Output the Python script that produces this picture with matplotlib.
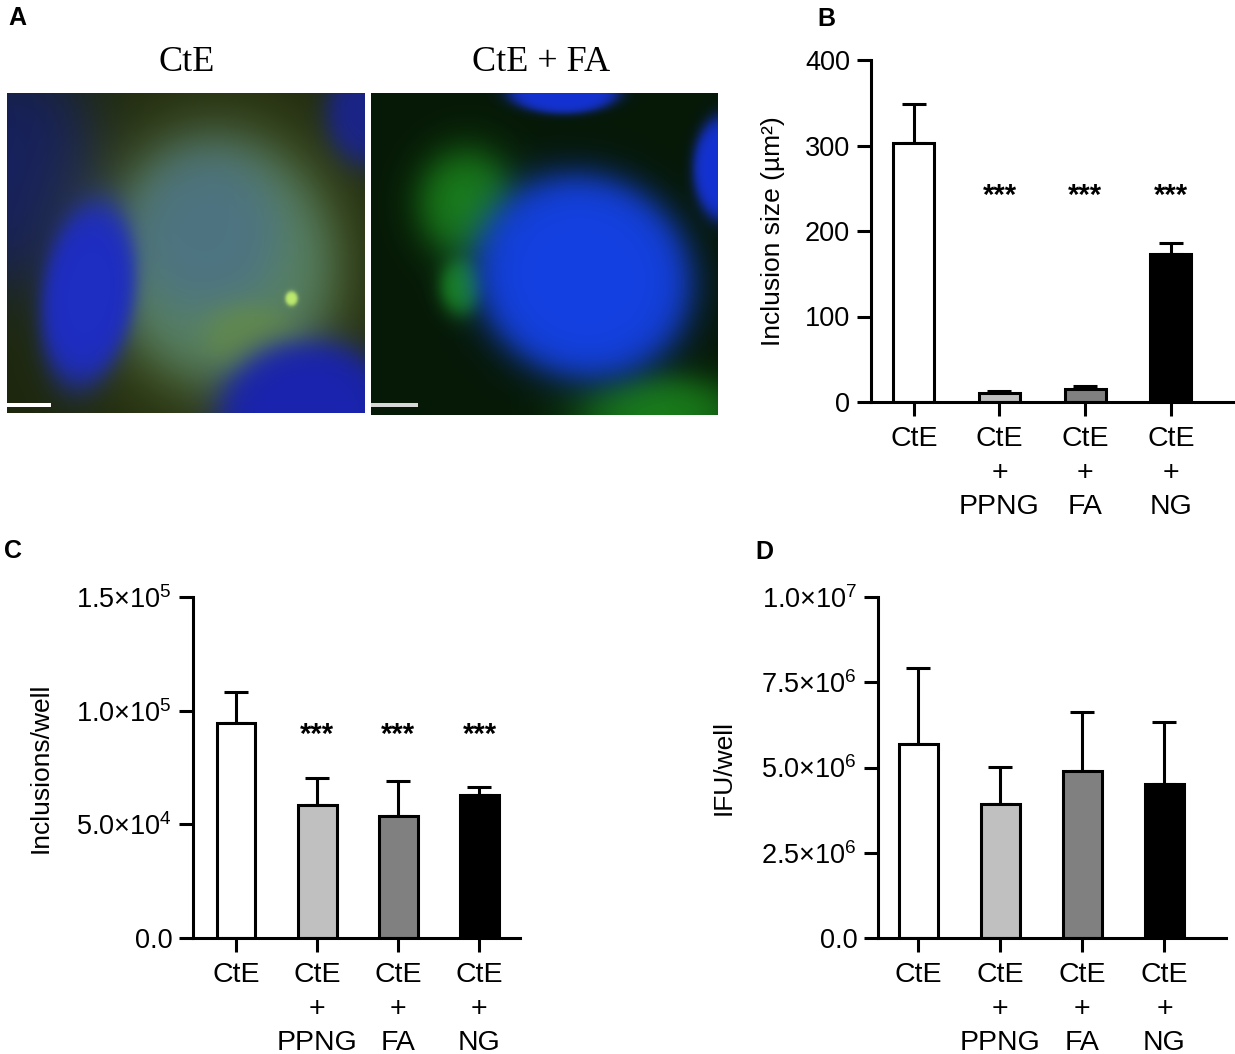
import numpy as np
import matplotlib
matplotlib.use("Agg")
import matplotlib.pyplot as plt

plt.rcParams['font.family'] = ['Liberation Sans', 'DejaVu Sans']
plt.rcParams['mathtext.fontset'] = 'custom'
plt.rcParams['mathtext.rm'] = 'Liberation Sans'
plt.rcParams['mathtext.it'] = 'Liberation Sans:italic'

# ---- data ----
groups = ['CtE', 'CtE\n+\nPPNG', 'CtE\n+\nFA', 'CtE\n+\nNG']
bar_colors = ['white', '#c0c0c0', '#808080', 'black']

size_mean = [303, 11, 15, 173]
size_err = [46, 2, 4, 13]
size_stars = ['', '***', '***', '***']

incl_mean = [94.6e3, 58.5e3, 53.7e3, 62.9e3]
incl_err = [13.4e3, 11.9e3, 15.3e3, 3.5e3]
incl_stars = ['', '***', '***', '***']

ifu_mean = [5.69e6, 3.93e6, 4.90e6, 4.52e6]
ifu_err = [2.23e6, 1.08e6, 1.73e6, 1.81e6]

incl_ticks = [0, 5e4, 1e5, 1.5e5]
incl_ticklabels = ['0.0', '5.0×10$^{4}$', '1.0×10$^{5}$', '1.5×10$^{5}$']
ifu_ticks = [0, 2.5e6, 5e6, 7.5e6, 1e7]
ifu_ticklabels = ['0.0', '2.5×10$^{6}$', '5.0×10$^{6}$', '7.5×10$^{6}$', '1.0×10$^{7}$']

W, H = 1235, 1054
fig = plt.figure(figsize=(W / 100, H / 100), dpi=100)


def rect(left, right, top, bottom):
    return [left / W, 1 - bottom / H, (right - left) / W, (bottom - top) / H]


LW = 2.2


def bar_panel(ax, mean, err, xlim, ylim, ticks, ticklabels, ylabel, label_x, stars=None, star_y=None):
    x = np.arange(len(mean))
    ax.bar(x, mean, width=0.48, color=bar_colors, edgecolor='black', linewidth=LW, zorder=2)
    ax.errorbar(x, mean, yerr=[np.zeros(len(err)), err], fmt='none', ecolor='black',
                elinewidth=LW, capsize=8.5, capthick=LW, zorder=1)
    ax.set_xlim(*xlim)
    ax.set_ylim(*ylim)
    ax.set_yticks(ticks)
    ax.set_yticklabels(ticklabels)
    ax.set_xticks(x)
    ax.set_xticklabels(groups, linespacing=1.38)
    for s in ['top', 'right']:
        ax.spines[s].set_visible(False)
    for s in ['left', 'bottom']:
        ax.spines[s].set_linewidth(LW)
    ax.tick_params(axis='y', length=10, width=LW, labelsize=19.5, pad=5)
    ax.tick_params(axis='x', length=10, width=LW, labelsize=20.5, pad=7.5)
    ax.set_ylabel(ylabel, fontsize=19)
    ax.yaxis.set_label_coords(label_x, 0.5)
    if stars:
        for xi, s in zip(x, stars):
            if s:
                ax.text(xi, star_y, s, ha='center', va='baseline', fontsize=21, fontweight='bold')
    ax.patch.set_alpha(0)


# ---- panel B ----
axB = fig.add_axes(rect(871, 1235, 60, 402))
bar_panel(axB, size_mean, size_err, (-0.5, 3.75), (0, 400), [0, 100, 200, 300, 400],
          ['0', '100', '200', '300', '400'], 'Inclusion size (µm²)', -0.235,
          size_stars, 232)

# ---- panel C ----
axC = fig.add_axes(rect(193, 520, 597, 938))
bar_panel(axC, incl_mean, incl_err, (-0.53, 3.5), (0, 1.5e5), incl_ticks, incl_ticklabels,
          'Inclusions/well', -0.43, incl_stars, 86e3)

# ---- panel D ----
axD = fig.add_axes(rect(878, 1226, 597, 938))
bar_panel(axD, ifu_mean, ifu_err, (-0.49, 3.75), (0, 1e7), ifu_ticks, ifu_ticklabels,
          'IFU/well', -0.41)


# ---- panel A: schematic fluorescence images ----
def soft_ellipse(shape, cx, cy, rx, ry, angle=0.0, sharp=8.0):
    h, w = shape
    yy, xx = np.mgrid[0:h, 0:w]
    a = np.deg2rad(angle)
    dx, dy = xx - cx, yy - cy
    u = (dx * np.cos(a) + dy * np.sin(a)) / rx
    v = (-dx * np.sin(a) + dy * np.cos(a)) / ry
    r = np.sqrt(u ** 2 + v ** 2)
    return 1 / (1 + np.exp((r - 1) * sharp))


def paint(img, mask, color, alpha=1.0):
    c = np.array(color) / 255.0
    m = (mask * alpha)[..., None]
    return img * (1 - m) + c * m


# left image: CtE
hL, wL = 320, 358
imgL = np.zeros((hL, wL, 3)) + np.array([28, 38, 14]) / 255.0
imgL = paint(imgL, soft_ellipse((hL, wL), 10, 80, 80, 105, 0, 5), (20, 30, 105), 0.9)
imgL = paint(imgL, soft_ellipse((hL, wL), 214, 170, 135, 150, 0, 4), (70, 82, 22), 0.8)
imgL = paint(imgL, soft_ellipse((hL, wL), 360, 20, 40, 50, 0, 6), (25, 35, 150), 0.9)
imgL = paint(imgL, soft_ellipse((hL, wL), 214, 170, 110, 120, -10, 7), (90, 135, 105), 0.95)
imgL = paint(imgL, soft_ellipse((hL, wL), 200, 140, 70, 80, 0, 5), (70, 105, 150), 0.6)
imgL = paint(imgL, soft_ellipse((hL, wL), 250, 250, 50, 35, 20, 5), (110, 150, 50), 0.5)
imgL = paint(imgL, soft_ellipse((hL, wL), 81, 200, 46, 92, 8, 9), (30, 45, 195), 1.0)
imgL = paint(imgL, soft_ellipse((hL, wL), 300, 322, 88, 75, 0, 9), (25, 35, 175), 1.0)
imgL = paint(imgL, soft_ellipse((hL, wL), 284, 205, 6, 7, 0, 6), (190, 235, 110), 1.0)
imgL[310:314, 0:44] = 1.0

# right image: CtE + FA
hR, wR = 322, 347
imgR = np.zeros((hR, wR, 3)) + np.array([6, 24, 6]) / 255.0
imgR = paint(imgR, soft_ellipse((hR, wR), 95, 110, 45, 50, 0, 4), (30, 150, 30), 0.8)
imgR = paint(imgR, soft_ellipse((hR, wR), 90, 193, 20, 26, 0, 4), (30, 160, 30), 0.8)
imgR = paint(imgR, soft_ellipse((hR, wR), 290, 322, 75, 38, 0, 4), (30, 150, 30), 0.8)
imgR = paint(imgR, soft_ellipse((hR, wR), 212, 183, 109, 100, 25, 10), (20, 65, 225), 1.0)
imgR = paint(imgR, soft_ellipse((hR, wR), 192, -2, 55, 22, 0, 10), (20, 50, 210), 1.0)
imgR = paint(imgR, soft_ellipse((hR, wR), 352, 75, 30, 52, 0, 10), (20, 50, 210), 1.0)
imgR[310:314, 0:47] = 0.85

axL = fig.add_axes(rect(7, 365, 93, 413))
axL.imshow(np.clip(imgL, 0, 1), aspect='auto', interpolation='bilinear')
axL.axis('off')
axR = fig.add_axes(rect(371, 718, 93, 415))
axR.imshow(np.clip(imgR, 0, 1), aspect='auto', interpolation='bilinear')
axR.axis('off')

fig.text(187 / W, 1 - 71 / H, 'CtE', ha='center', va='baseline', fontsize=26,
         family=['Liberation Serif'])
fig.text(541 / W, 1 - 71 / H, 'CtE + FA', ha='center', va='baseline', fontsize=26,
         family=['Liberation Serif'])

# panel letters
for letter, px, py in [('A', 8, 25), ('B', 817, 26), ('C', 4, 558), ('D', 755, 559)]:
    fig.text(px / W, 1 - py / H, letter, ha='left', va='baseline', fontsize=18, fontweight='bold')

fig.savefig('out.png', dpi=100)
